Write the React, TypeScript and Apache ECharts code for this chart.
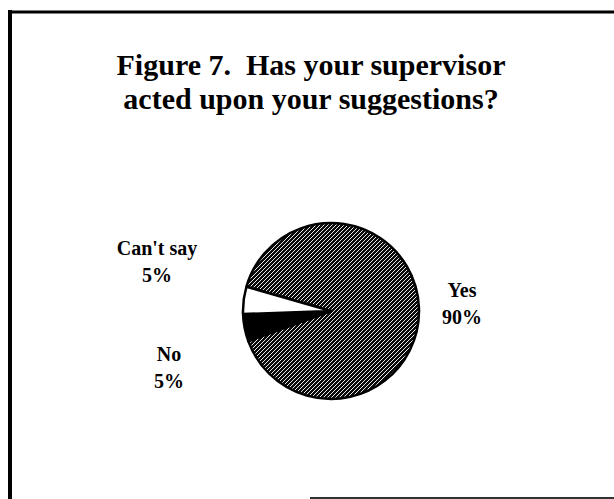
import React, { useEffect, useRef } from "react";
import * as echarts from "echarts";

const titleLines = ["Figure 7.  Has your supervisor", "acted upon your suggestions?"];
const categories = ["Yes", "No", "Can't say"];
const values = [90, 5, 5];
const sliceColors = ["pattern", "#000000", "#ffffff"];
// label anchor positions (centre of each two-line label), in px
const labelX = [462, 169, 157];
const labelY = [303, 367, 261];

const FONT = "'Liberation Serif', 'Times New Roman', serif";

function makePattern() {
  const c = document.createElement("canvas");
  c.width = 4;
  c.height = 4;
  const ctx = c.getContext("2d")!;
  for (let y = 0; y < 4; y++) {
    for (let x = 0; x < 4; x++) {
      const k = (x + y) % 4;
      const dark = k !== 0;
      ctx.fillStyle = dark ? "#0a0a0a" : "#e8e8e8";
      ctx.fillRect(x, y, 1, 1);
    }
  }
  return c;
}

export default function App() {
  const ref = useRef<HTMLDivElement>(null);
  useEffect(() => {
    if (!ref.current) return;
    const chart = echarts.init(ref.current, null, { renderer: "svg" });
    const pat = makePattern();
    const data = categories.map((name, i) => ({
      name,
      value: values[i],
      itemStyle: {
        color:
          sliceColors[i] === "pattern"
            ? { image: pat, repeat: "repeat", imageWidth: 4, imageHeight: 4 }
            : sliceColors[i],
      },
    }));
    chart.setOption({
      animation: false,
      backgroundColor: "#ffffff",
      graphic: [
        {
          type: "text",
          x: 311,
          y: 47,
          style: {
            text: titleLines.join("\n"),
            font: `bold 30px ${FONT}`,
            fill: "#000",
            align: "center",
            verticalAlign: "top",
            lineHeight: 34,
          },
        },
        { type: "line", shape: { x1: 10, y1: 10, x2: 10, y2: 499 }, style: { stroke: "#000", lineWidth: 4 } },
        { type: "line", shape: { x1: 8, y1: 12, x2: 614, y2: 12 }, style: { stroke: "#000", lineWidth: 3 } },
        { type: "line", shape: { x1: 310, y1: 498, x2: 614, y2: 498 }, style: { stroke: "#333", lineWidth: 2 } },
      ],
      series: [
        {
          type: "pie",
          center: [331, 311],
          radius: 88,
          startAngle: 164,
          clockwise: true,
          avoidLabelOverlap: false,
          data,
          itemStyle: { borderColor: "#000", borderWidth: 2.5 },
          label: {
            show: true,
            position: "outside",
            formatter: "{b}\n{c}%",
            fontFamily: FONT,
            fontWeight: "bold",
            fontSize: 20,
            lineHeight: 27,
            color: "#000",
            align: "center",
          },
          labelLine: { show: false },
          labelLayout: (p: any) => ({
            x: labelX[p.dataIndex],
            y: labelY[p.dataIndex],
            align: "center",
            verticalAlign: "middle",
          }),
          emphasis: { disabled: true },
        },
      ],
    });
    return () => chart.dispose();
  }, []);
  return (
    <div
      ref={ref}
      style={{ position: "fixed", left: 0, top: 0, width: 614, height: 499 }}
    />
  );
}
